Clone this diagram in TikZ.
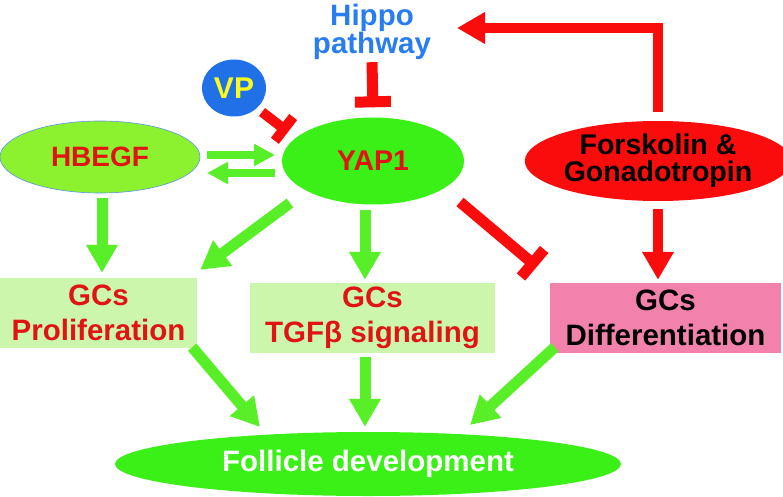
\documentclass[tikz,border=0pt]{standalone}
\usepackage{fontspec}
\setmainfont{Liberation Sans}
\usetikzlibrary{arrows.meta,shapes.geometric,calc}
\definecolor{gArrow}{RGB}{88,238,40}
\definecolor{gYap}{RGB}{58,240,22}
\definecolor{gHb}{RGB}{140,242,48}
\definecolor{rC}{RGB}{250,12,12}
\definecolor{rText}{RGB}{225,20,20}
\definecolor{bText}{RGB}{40,125,240}
\definecolor{bVP}{RGB}{32,112,232}
\definecolor{yVP}{RGB}{250,250,30}
\definecolor{boxG}{RGB}{204,246,172}
\definecolor{boxP}{RGB}{242,130,172}
\definecolor{hbBorder}{RGB}{90,150,230}
\begin{document}
\begin{tikzpicture}[x=1pt,y=-1pt,
  txt/.style={font=\fontsize{28}{34}\selectfont\bfseries, align=center, inner sep=0pt},
  boxtxt/.style={font=\fontsize{29.5}{35}\selectfont\bfseries, align=center, inner sep=0pt},
  ell/.style={ellipse, inner sep=0pt, txt},
  gbox/.style={rectangle, fill=boxG, boxtxt},
  garrow/.style={draw=gArrow, line width=11pt, -{Triangle[width=30pt,length=28pt]}},
  gthin/.style={draw=gArrow, line width=8pt, -{Triangle[width=21pt,length=21pt]}},
  rarrow/.style={draw=rC, line width=10pt, -{Triangle[width=30pt,length=28pt]}},
  rinh/.style={draw=rC, line width=11pt, -{Bar[width=36pt]}}
]
\useasboundingbox (0,0) rectangle (783,497);

% nodes
\node[txt, text=bText, font=\fontsize{29.5}{25}\selectfont\bfseries] (hippo) at (372,32) {Hippo\\pathway};
\node[ellipse, fill=bVP, minimum width=64pt, minimum height=57pt, inner sep=0pt,
      text=yVP, font=\fontsize{30}{34}\selectfont\bfseries] (vp) at (234,88) {VP};
\node[ell, fill=gHb, draw=hbBorder, line width=0.6pt, minimum width=200pt, minimum height=72pt, text=rText] (hbegf) at (100,157) {HBEGF};
\node[ell, fill=gYap, minimum width=182pt, minimum height=87pt, text=rText, font=\fontsize{28.5}{32}\selectfont\bfseries] (yap) at (373,161) {YAP1};
\node[ell, fill=rC, minimum width=237pt, minimum height=80pt, text=black, font=\fontsize{28.5}{27}\selectfont\bfseries] (fsk) at (658,161) {Forskolin \&\\Gonadotropin};
\node[gbox, minimum width=197pt, minimum height=70pt, text=rText] (prolif) at (98.5,313) {GCs\\Proliferation};
\node[gbox, minimum width=245pt, minimum height=70pt, text=rText] (tgf) at (372.5,318) {GCs\\TGFβ signaling};
\node[rectangle, fill=boxP, boxtxt, minimum width=231pt, minimum height=70pt, text=black] (diff) at (665.5,318) {GCs\\Differentiation};
\node[ell, fill=gYap, minimum width=506pt, minimum height=64pt, text=white, font=\fontsize{29.5}{34}\selectfont\bfseries] (foll) at (368,464) {Follicle development};

% connectors
\coordinate (hipTip) at ($(hippo.center)+(85,-4)$);
\draw[rarrow] ([yshift=9pt]fsk.north) |- (hipTip);
\draw[rinh] ([yshift=-2pt]hippo.south) -- ([yshift=10pt]yap.north);
\draw[rinh, line width=10pt, -{Bar[width=30pt]}] ($(vp.center)+(28,24)$) -- ($(yap.center)+(-85,-29)$);

\draw[gthin] ($(hbegf.center)+(107,-2)$) -- ($(yap.center)+(-98,-6)$);
\draw[gthin] ($(yap.center)+(-98,12)$) -- ($(hbegf.center)+(107,16)$);

\draw[garrow] ($(hbegf.south)+(2,5)$) -- ($(prolif.north)+(3.5,-5)$);
\draw[garrow] ($(yap.center)+(-83,42)$) -- ($(prolif.north east)+(3,-8)$);
\draw[garrow] ($(yap.south)+(-8,5)$) -- ($(tgf.north)+(-7.5,-3)$);
\draw[rinh] ($(yap.center)+(87,41)$) -- ($(diff.north west)+(-13,-16)$);
\draw[rarrow] ([yshift=-8pt]fsk.south) -- ([yshift=3pt]fsk.south |- diff.north);

\draw[garrow] ($(prolif.south east)+(-5,-1)$) -- ($(foll.center)+(-108,-37)$);
\draw[garrow] ($(tgf.south)+(-7.5,4)$) -- ($(foll.north)+(-3,-5)$);
\draw[garrow] ($(diff.south west)+(5,-6)$) -- ($(foll.center)+(102,-39)$);
\end{tikzpicture}
\end{document}
